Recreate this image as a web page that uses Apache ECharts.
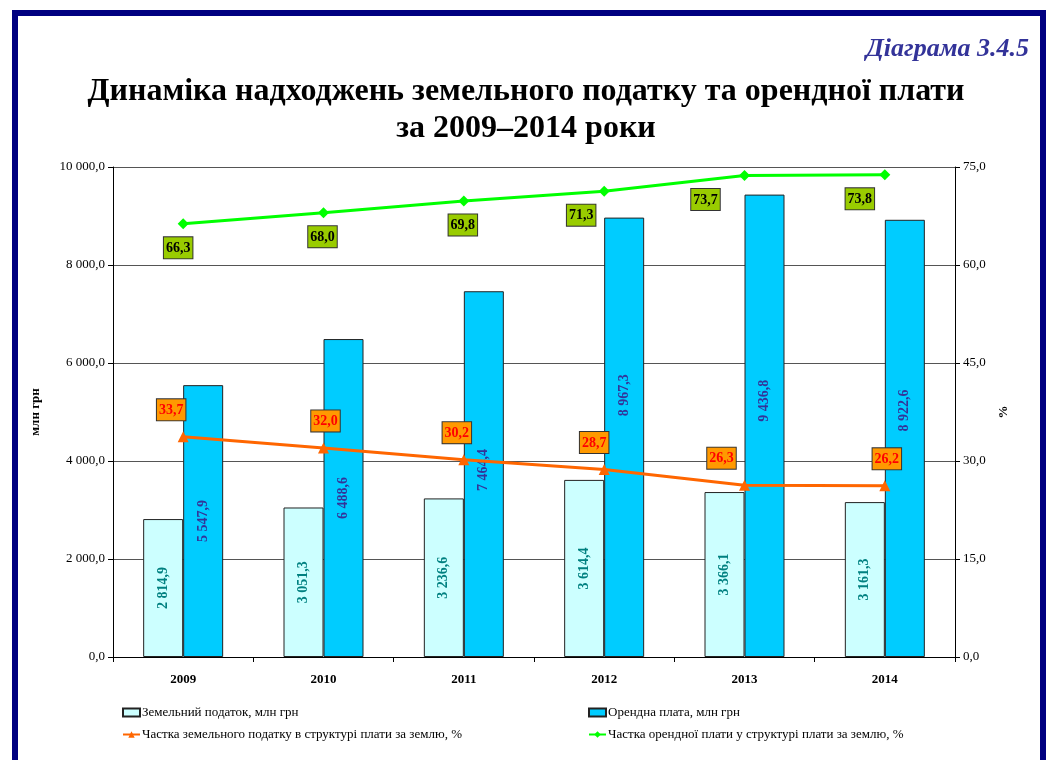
<!DOCTYPE html>
<html>
<head>
<meta charset="utf-8">
<script src="https://cdn.jsdelivr.net/npm/echarts@6/dist/echarts.min.js"></script>
<style>
  html, body { margin: 0; padding: 0; background: #fff; }
  #frame {
    position: absolute; left: 12px; top: 10px; width: 1022px; height: 800px;
    border: 6px solid #000080; box-sizing: content-box;
  }
  #chart { position: absolute; left: 0; top: 0; width: 1052px; height: 760px; }
</style>
</head>
<body>
<div id="frame"></div>
<div id="chart"></div>
<script>
// дані діаграми
const years = ['2009', '2010', '2011', '2012', '2013', '2014']
const landTax = [2814.9, 3051.3, 3236.6, 3614.4, 3366.1, 3161.3]
const rent = [5547.9, 6488.6, 7464.4, 8967.3, 9436.8, 8922.6]
const landTaxShare = [33.7, 32.0, 30.2, 28.7, 26.3, 26.2]
const rentShare = [66.3, 68.0, 69.8, 71.3, 73.7, 73.8]

const serif = '"Liberation Serif", "DejaVu Serif", serif'

// 2 814,9
const fmt = (v) => {
  const [i, d] = Number(v).toFixed(1).split('.')
  return i.replace(/\B(?=(\d{3})+(?!\d))/g, ' ') + ',' + d
}

// ручні зсуви підписів як в оригіналі (текст повернутий, тому зсув по x = вгору)
const rentLabelUp = [0, 0, 4, 42, 25, 28]
const orangeLabelDx = [-12, 2, -7, -10, -23, 2]
const greenLabelDx = [-5, -1, -1, -23, -39, -25]

const chart = echarts.init(document.getElementById('chart'))

chart.setOption({
  backgroundColor: 'transparent',
  animation: false,
  title: [
    {
      text: 'Діаграма 3.4.5',
      right: 18,
      top: 31,
      textStyle: { fontFamily: serif, fontStyle: 'italic', fontWeight: 'bold', fontSize: 26, color: '#333399' }
    },
    {
      text: 'Динаміка надходжень земельного податку та орендної плати\nза 2009–2014 роки',
      left: 'center',
      top: 68,
      textStyle: { fontFamily: serif, fontWeight: 'bold', fontSize: 32, color: '#000', lineHeight: 37 }
    }
  ],
  legend: [
    {
      orient: 'vertical', left: 117, top: 701, itemGap: 9,
      itemWidth: 17, itemHeight: 8,
      textStyle: { fontFamily: serif, fontSize: 13, color: '#000', padding: [0, 0, 0, -3] },
      data: [
        { name: 'Земельний податок, млн грн', icon: 'rect' },
        'Частка земельного податку в структурі плати за землю, %'
      ]
    },
    {
      orient: 'vertical', left: 583, top: 701, itemGap: 9,
      itemWidth: 17, itemHeight: 8,
      textStyle: { fontFamily: serif, fontSize: 13, color: '#000', padding: [0, 0, 0, -3] },
      data: [
        { name: 'Орендна плата, млн грн', icon: 'rect' },
        'Частка орендної плати у структурі плати за землю, %'
      ]
    }
  ],
  grid: { left: 113, right: 97, top: 167, bottom: 103 },
  xAxis: {
    type: 'category',
    data: years,
    axisLine: { lineStyle: { color: '#000', width: 1 } },
    axisTick: { show: true, length: 5, lineStyle: { color: '#000' } },
    axisLabel: { fontFamily: serif, fontWeight: 'bold', fontSize: 13, color: '#000', margin: 16 }
  },
  yAxis: [
    {
      type: 'value', min: 0, max: 10000, interval: 2000,
      name: 'млн грн', nameLocation: 'middle', nameGap: 71,
      nameTextStyle: { fontFamily: serif, fontWeight: 'bold', fontSize: 13, color: '#000' },
      axisLine: { show: true, lineStyle: { color: '#000' } },
      axisTick: { show: true, length: 5, lineStyle: { color: '#000' } },
      axisLabel: { fontFamily: serif, fontSize: 13, color: '#000', margin: 8, formatter: fmt },
      splitLine: { lineStyle: { color: '#555', width: 1 } }
    },
    {
      type: 'value', min: 0, max: 75, interval: 15,
      name: '%', nameLocation: 'middle', nameGap: 40,
      nameTextStyle: { fontFamily: serif, fontWeight: 'bold', fontSize: 13, color: '#000' },
      axisLine: { show: true, lineStyle: { color: '#000' } },
      axisTick: { show: true, length: 5, lineStyle: { color: '#000' } },
      axisLabel: { fontFamily: serif, fontSize: 13, color: '#000', margin: 8, formatter: fmt },
      splitLine: { show: false }
    }
  ],
  series: [
    {
      name: 'Земельний податок, млн грн',
      type: 'bar',
      barWidth: 40,
      barGap: '0%',
      data: landTax,
      itemStyle: { color: '#CCFFFF', borderColor: '#222', borderWidth: 1 },
      label: {
        show: true, position: 'inside', rotate: 90,
        fontFamily: serif, fontWeight: 'bold', fontSize: 14, color: '#008080',
        formatter: (p) => fmt(p.value)
      }
    },
    {
      name: 'Орендна плата, млн грн',
      type: 'bar',
      barWidth: 40,
      data: rent.map((v, i) => ({ value: v, label: { offset: [rentLabelUp[i], 0] } })),
      itemStyle: { color: '#00CCFF', borderColor: '#222', borderWidth: 1 },
      label: {
        show: true, position: 'inside', rotate: 90,
        fontFamily: serif, fontWeight: 'bold', fontSize: 14, color: '#333399',
        formatter: (p) => fmt(p.value)
      }
    },
    {
      name: 'Частка земельного податку в структурі плати за землю, %',
      type: 'line',
      yAxisIndex: 1,
      data: landTaxShare.map((v, i) => ({ value: v, label: { offset: [orangeLabelDx[i], 0] } })),
      symbol: 'triangle', symbolSize: 11,
      lineStyle: { color: '#FF6600', width: 3 },
      itemStyle: { color: '#FF6600' },
      label: {
        show: true, position: 'top', distance: 11,
        fontFamily: serif, fontWeight: 'bold', fontSize: 14, color: '#FF0000',
        backgroundColor: '#FF9900', borderColor: '#333', borderWidth: 1, padding: [4, 2, 3, 2],
        formatter: (p) => fmt(p.value)
      }
    },
    {
      name: 'Частка орендної плати у структурі плати за землю, %',
      type: 'line',
      yAxisIndex: 1,
      data: rentShare.map((v, i) => ({ value: v, label: { offset: [greenLabelDx[i], 0] } })),
      symbol: 'diamond', symbolSize: 11,
      lineStyle: { color: '#00FF00', width: 3 },
      itemStyle: { color: '#00FF00' },
      label: {
        show: true, position: 'bottom', distance: 8,
        fontFamily: serif, fontWeight: 'bold', fontSize: 14, color: '#000',
        backgroundColor: '#99CC00', borderColor: '#333', borderWidth: 1, padding: [4, 2, 3, 2],
        formatter: (p) => fmt(p.value)
      }
    }
  ]
})
</script>
</body>
</html>
